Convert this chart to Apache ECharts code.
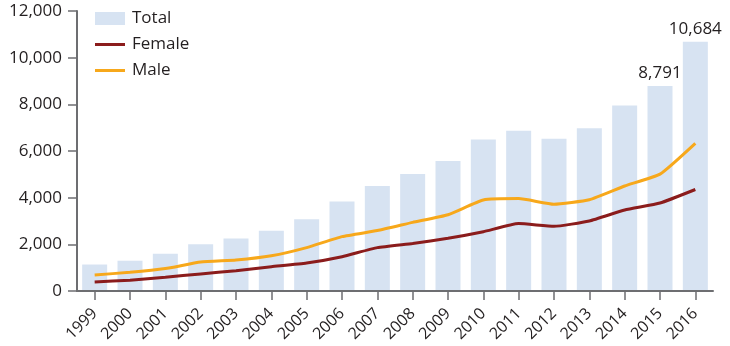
<!DOCTYPE html>
<html>
<head>
<meta charset="utf-8">
<script src="https://cdn.jsdelivr.net/npm/echarts@6/dist/echarts.min.js"></script>
<style>
  html, body { margin: 0; padding: 0; background: #fff; }
  #chart { width: 730px; height: 346px; }
</style>
</head>
<body>
<div id="chart"></div>
<script>
// Overdose deaths by year: total (bars) with female and male trends (lines)
const years = ['1999','2000','2001','2002','2003','2004','2005','2006','2007','2008',
               '2009','2010','2011','2012','2013','2014','2015','2016'];
const total = [1135, 1298, 1594, 2003, 2248, 2586, 3071, 3835, 4501, 5010,
               5571, 6497, 6872, 6524, 6973, 7945, 8791, 10684];
const female = [390, 460, 590, 730, 870, 1040, 1200, 1470, 1860, 2040,
                2260, 2540, 2890, 2770, 3000, 3470, 3770, 4350];
const male = [690, 800, 960, 1240, 1330, 1510, 1860, 2330, 2590, 2940,
              3270, 3900, 3960, 3720, 3910, 4500, 5010, 6330];
// Years whose total gets a value label
const labelledYears = ['2015', '2016'];

const textColor = '#231f20';
const axisColor = '#6d6e71';
const font = 'Open Sans';
// Legend key for the line series: a 3px bar centred in a 30x13 box
const lineKey = 'path://M0,0L0.01,0M0,5H30V8H0ZM30,13L29.99,13';

const chart = echarts.init(document.getElementById('chart'), null, { renderer: 'canvas' });

chart.setOption({
  animation: false,
  textStyle: { fontFamily: font },
  grid: { left: 77, right: 17, top: 11, bottom: 55, containLabel: false },
  legend: {
    orient: 'vertical',
    left: 90,
    top: 5,
    itemWidth: 30,
    itemHeight: 13,
    itemGap: 9,
    textStyle: { fontFamily: font, fontSize: 17, lineHeight: 17, color: textColor, padding: [0, 0, 0, 2] },
    data: [
      { name: 'Total', icon: 'rect' },
      { name: 'Female', icon: lineKey },
      { name: 'Male', icon: lineKey }
    ]
  },
  xAxis: {
    type: 'category',
    data: years,
    z: 5,
    axisLine: { lineStyle: { color: axisColor, width: 2 } },
    axisTick: { show: true, alignWithLabel: true, length: 9, lineStyle: { color: axisColor, width: 1.5 } },
    axisLabel: { rotate: 45, fontSize: 16, color: textColor, margin: 20, fontFamily: font }
  },
  yAxis: {
    type: 'value',
    min: 0,
    max: 12000,
    interval: 2000,
    axisLine: { show: true, lineStyle: { color: axisColor, width: 2 } },
    axisTick: { show: true, length: 9, lineStyle: { color: axisColor, width: 1.5 } },
    splitLine: { show: false },
    axisLabel: {
      fontSize: 17, color: textColor, margin: 15, fontFamily: font,
      formatter: v => v.toLocaleString('en-US')
    }
  },
  series: [
    {
      name: 'Total',
      type: 'bar',
      barWidth: 25,
      itemStyle: { color: '#d7e3f2' },
      data: total.map((v, i) => ({
        value: v,
        label: {
          show: labelledYears.includes(years[i]),
          position: 'top',
          distance: 4,
          fontSize: 17,
          color: textColor,
          fontFamily: font,
          formatter: p => p.value.toLocaleString('en-US')
        }
      }))
    },
    {
      name: 'Female',
      type: 'line',
      data: female,
      smooth: 0.15,
      symbol: 'none',
      itemStyle: { color: '#8b1c1c' },
      lineStyle: { color: '#8b1c1c', width: 3 }
    },
    {
      name: 'Male',
      type: 'line',
      data: male,
      smooth: 0.15,
      symbol: 'none',
      itemStyle: { color: '#f7a81b' },
      lineStyle: { color: '#f7a81b', width: 3 }
    }
  ]
});
</script>
</body>
</html>
